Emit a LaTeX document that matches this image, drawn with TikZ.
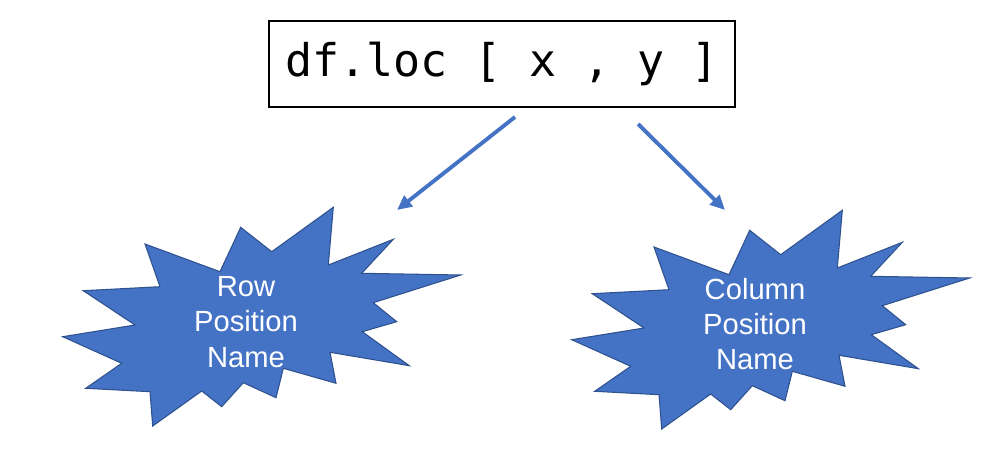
\documentclass[tikz,border=0pt]{standalone}
\usepackage{fontspec}
\setmainfont{Liberation Sans}
\setmonofont{DejaVu Sans Mono}
\usetikzlibrary{arrows.meta,positioning}
\definecolor{burstblue}{HTML}{4472C4}
\definecolor{burstedge}{HTML}{2F528F}
\definecolor{ink}{HTML}{000000}
\newcommand{\burstpath}{(333.3,207.3) -- (328.3,265) -- (393.3,239.3) -- (361.7,273.3)
  -- (460.7,275) -- (373.3,302.7) -- (396.7,321.7) -- (362.3,331.7)
  -- (409.3,365.7) -- (330,352.3) -- (336,383.3) -- (283.3,368.3)
  -- (276,397.7) -- (243.3,382.7) -- (221.7,406.7) -- (201.7,391)
  -- (152.7,426) -- (150,391.7) -- (85.7,388.3) -- (121.7,363.3)
  -- (62.7,336.7) -- (135,325) -- (83.3,290.7) -- (160,286.7)
  -- (145,244) -- (220,271.7) -- (240.7,227.3) -- (271.7,251.7) -- cycle}
\tikzset{
  codebox/.style={draw=ink,line width=0.5pt,minimum width=4.66cm,
                  minimum height=0.86cm,inner sep=0pt,
                  font=\ttfamily\fontsize{12.8}{14}\selectfont},
  burst/.style={fill=burstblue,draw=burstedge,line width=0.3pt},
  bursttext/.style={text=white,align=center,inner sep=0pt,
                    font=\fontsize{8.3}{10}\selectfont},
  bluearr/.style={-{Triangle[length=4.2pt,width=3.8pt]},line width=1.1pt,
                  draw=burstblue}
}
\begin{document}
\begin{tikzpicture}[x=0.01cm,y=-0.01cm]
    \path[use as bounding box] (0,0) rectangle (982,461);
    % code expression
    \node[codebox] (code) at (502,64) {df.loc [ x , y ]};
    % the two bursts
    \draw[burst] \burstpath;
    \begin{scope}[shift={(509,3)}]
      \draw[burst] \burstpath;
    \end{scope}
    \node[bursttext] (rowname) at (246,322) {Row\\Position\\Name};
    \node[bursttext] (colname) at (755,324) {Column\\Position\\Name};
    % arrows
    \coordinate (rowfrom) at (515,117);
    \coordinate (rowto) at (397,210);
    \coordinate (colfrom) at (638,124);
    \coordinate (colto) at (725,210);
    \draw[bluearr] (rowfrom) -- (rowto);
    \draw[bluearr] (colfrom) -- (colto);
  \end{tikzpicture}
\end{document}
